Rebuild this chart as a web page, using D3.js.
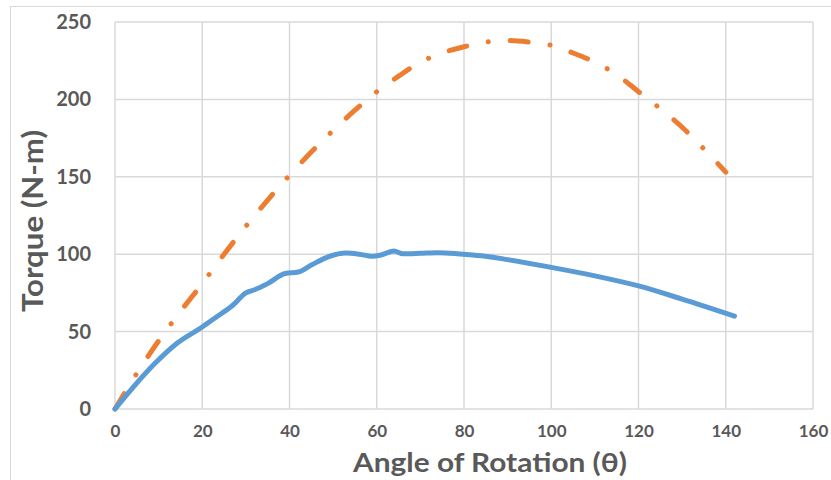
<!DOCTYPE html>
<html>
<head>
<meta charset="utf-8">
<script src="https://cdn.jsdelivr.net/npm/d3@7"></script>
<style>
  body { margin: 0; background: #fff; }
  svg { display: block; }
  text { font-family: Lato, "Open Sans", sans-serif; font-weight: bold; fill: #595959; }
</style>
</head>
<body>
<div id="chart"></div>
<script>
// angle (deg) / torque (N-m)
const angleBlue  = [0, 4, 9, 14, 20, 23, 27, 30, 32, 35, 39, 42, 45, 49, 53, 56, 59, 61, 64, 66, 70, 74, 79, 84, 90, 100, 110, 120, 130, 142];
const torqueBlue = [0, 13.5, 29, 42, 53, 59, 67, 75, 77, 81, 87.5, 88.5, 93, 98.5, 100.8, 100, 98.6, 99.5, 102, 100.3, 100.6, 101, 100.2, 99, 96.5, 91.5, 86, 79.5, 71, 60];

const angleOrange  = [0, 5, 10, 15, 20, 25, 30, 35, 40, 45, 50, 55, 60, 65, 70, 75, 80, 85, 90, 95, 100, 105, 110, 115, 120, 125, 130, 135, 140];
const torqueOrange = [0, 23, 44, 63, 81, 100, 118, 135, 151, 166, 180, 193, 205, 215, 224, 230, 234, 237, 238, 237, 235, 230, 224, 216, 205, 194, 182, 168, 153];

const xTicks = [0, 20, 40, 60, 80, 100, 120, 140, 160];
const yTicks = [0, 50, 100, 150, 200, 250];

const width = 831, height = 480;

const svg = d3.select('#chart').append('svg')
    .attr('width', width)
    .attr('height', height);

// outer chart frame
svg.append('rect')
    .attr('x', 10.5).attr('y', 6.5)
    .attr('width', 830).attr('height', 480)
    .attr('fill', 'none')
    .attr('stroke', '#d9d9d9')
    .attr('stroke-width', 1);

const x = d3.scaleLinear().domain([0, 160]).range([115, 813]);
const y = d3.scaleLinear().domain([0, 250]).range([409, 22]);

// gridlines
svg.append('g')
    .selectAll('line')
    .data(xTicks)
    .enter().append('line')
    .attr('x1', d => x(d)).attr('x2', d => x(d))
    .attr('y1', y(0)).attr('y2', y(250))
    .attr('stroke', '#d9d9d9')
    .attr('stroke-width', 1.5);

svg.append('g')
    .selectAll('line')
    .data(yTicks)
    .enter().append('line')
    .attr('x1', x(0)).attr('x2', x(160))
    .attr('y1', d => y(d)).attr('y2', d => y(d))
    .attr('stroke', '#d9d9d9')
    .attr('stroke-width', 1.5);

// axes (labels only, Excel style)
const xAxis = svg.append('g')
    .attr('transform', `translate(0,${y(0)})`)
    .call(d3.axisBottom(x).tickValues(xTicks).tickSize(0).tickPadding(16));
xAxis.select('.domain').remove();
xAxis.selectAll('text').style('font-size', '17px').attr('fill', '#595959');

const yAxis = svg.append('g')
    .attr('transform', `translate(${x(0)},0)`)
    .call(d3.axisLeft(y).tickValues(yTicks).tickSize(0).tickPadding(24));
yAxis.select('.domain').remove();
yAxis.selectAll('text').style('font-size', '20px').attr('fill', '#595959');

// lines
const line = d3.line()
    .x(d => x(d[0]))
    .y(d => y(d[1]))
    .curve(d3.curveMonotoneX);

svg.append('path')
    .datum(d3.zip(angleOrange, torqueOrange))
    .attr('d', line)
    .attr('fill', 'none')
    .attr('stroke', '#ed7d31')
    .attr('stroke-width', 5)
    .attr('stroke-linecap', 'round')
    .attr('stroke-dasharray', '18 22 0.1 22');

svg.append('path')
    .datum(d3.zip(angleBlue, torqueBlue))
    .attr('d', line)
    .attr('fill', 'none')
    .attr('stroke', '#5b9bd5')
    .attr('stroke-width', 5)
    .attr('stroke-linecap', 'round')
    .attr('stroke-linejoin', 'round');

// axis titles
svg.append('text')
    .attr('x', 490).attr('y', 472)
    .attr('text-anchor', 'middle')
    .style('font-size', '27px')
    .attr('textLength', 274)
    .attr('lengthAdjust', 'spacingAndGlyphs')
    .text('Angle of Rotation (θ)');

svg.append('text')
    .attr('transform', 'translate(43,221) rotate(-90)')
    .attr('text-anchor', 'middle')
    .style('font-size', '28px')
    .attr('textLength', 182)
    .attr('lengthAdjust', 'spacingAndGlyphs')
    .text('Torque (N-m)');
</script>
</body>
</html>
